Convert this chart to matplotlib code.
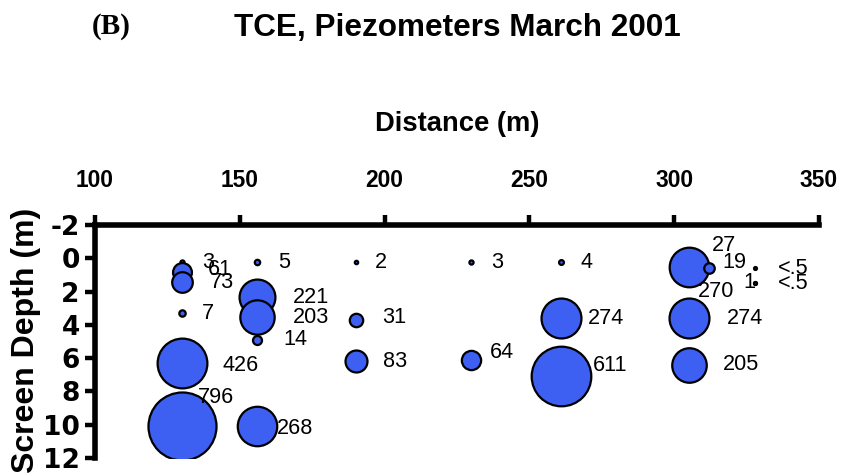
import numpy as np
import matplotlib as mpl; mpl.use('Agg'); import matplotlib.pyplot as plt
from matplotlib import font_manager as fm
mpl.rcParams['axes.unicode_minus'] = False

have = {f.name for f in fm.fontManager.ttflist}
NARROW = 'Liberation Sans Narrow' if 'Liberation Sans Narrow' in have else 'Liberation Sans'
K = 1.0 if NARROW == 'Liberation Sans Narrow' else 0.82   # shrink if no narrow face

# piezometer TCE data, March 2001
dist   = [130, 130, 130, 130, 130, 130, 156, 156, 156, 156, 156, 190, 190, 190, 230, 230,
          261, 261, 261, 305, 305, 312, 305, 305, 328, 328, 328]
depth  = [0.2, 0.8, 1.4, 3.3, 6.3, 10.1, 0.25, 2.3, 3.5, 4.9, 10.1, 0.25, 3.7, 6.2, 0.25, 6.1,
          0.25, 3.6, 7.1, 0.0, 0.5, 0.6, 3.6, 6.4, 0.6, 1.5, 1.5]
conc   = [3, 61, 73, 7, 426, 796, 5, 221, 203, 14, 268, 2, 31, 83, 3, 64,
          4, 274, 611, 27, 270, 19, 274, 205, 0.5, 1, 0.5]
labels = ['3', '61', '73', '7', '426', '796', '5', '221', '203', '14', '268', '2', '31', '83', '3', '64',
          '4', '274', '611', '27', '270', '19', '274', '205', '<.5', '1', '<.5']
# label placement (pixels from bubble centre)
lab_off = [(20, -1), (26, 2), (28, -1), (20, 0), (41, -2), (16, 29), (21, 0), (36, -1), (36, -1), (26, 0),
           (20, -2), (19, 0), (26, 2), (27, 0), (20, 0), (18, 7), (19, 0), (27, 0), (32, 11), (23, 13),
           (9, -25), (13, 6), (38, 0), (34, 0), (23, 0), (-12, 1), (23, 0)]
xticks = [100, 150, 200, 250, 300, 350]
yticks = [-2, 0, 2, 4, 6, 8, 10, 12]

BLUE = '#3d5ff2'
fig = plt.figure(figsize=(8.43, 4.74), dpi=100)
ax = fig.add_axes([95/843, 16/474, 724/843, 233/474])

s = np.maximum(np.array(conc, float), 1.5) * 2400/796
for xi, yi, si in zip(dist, depth, s):
    ax.scatter(xi, yi, s=si, color=BLUE, edgecolor='black', lw=1.6, zorder=3)
for xi, yi, t, (dx, dy) in zip(dist, depth, labels, lab_off):
    ax.annotate(t, (xi, yi), xytext=(dx, dy), textcoords='offset pixels', ha='left', va='center',
                family=NARROW, fontsize=19*K, zorder=4)

ax.set_xlim(100, 350); ax.set_ylim(12, -2)
ax.set_xticks(xticks); ax.set_yticks(yticks)
ax.xaxis.tick_top()
for sp in ['bottom', 'right']: ax.spines[sp].set_visible(False)
for sp in ['top', 'left']: ax.spines[sp].set_linewidth(4)
ax.tick_params(axis='both', direction='out', length=7.5, width=3.2)
ax.tick_params(axis='x', pad=16)
ax.tick_params(axis='y', pad=3.5)
for lb in ax.get_xticklabels():
    lb.set_family(NARROW); lb.set_fontweight('bold'); lb.set_fontsize(20*K)
for lb in ax.get_yticklabels():
    lb.set_family('DejaVu Sans'); lb.set_fontweight('bold'); lb.set_fontsize(19)

ax.set_xlabel('Distance (m)', family=NARROW, fontweight='bold', fontsize=24*K, va='center')
ax.xaxis.set_label_position('top'); ax.xaxis.set_label_coords(0.501, 1.403)
ax.set_ylabel('Screen Depth (m)', family='Liberation Sans', fontweight='bold', fontsize=23, va='center')
ax.yaxis.set_label_coords(-0.0953, 0.506)

fig.text(457/843, 1-28/474, 'TCE, Piezometers March 2001', family=NARROW, fontweight='bold',
         fontsize=27.7*K, ha='center', va='center')
fig.text(111/843, 1-26/474, '(B)', family='Liberation Serif', fontweight='bold', fontsize=21,
         ha='center', va='center')

fig.savefig('out.png', dpi=100)
